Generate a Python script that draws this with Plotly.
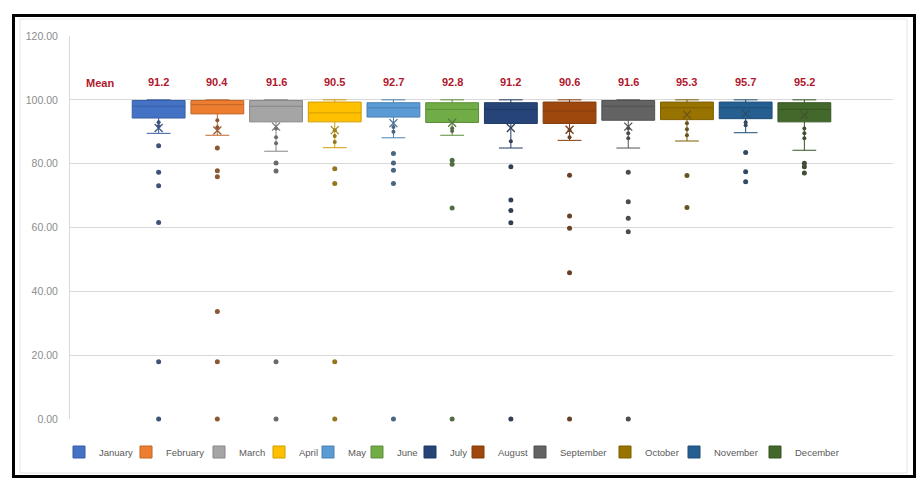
import plotly.graph_objects as go

# Monthly score distribution (percent), summarised per month
months = ["January", "February", "March", "April", "May", "June",
          "July", "August", "September", "October", "November", "December"]

q1 = [94.3, 95.6, 93.1, 93.1, 94.6, 92.9, 92.6, 92.6, 93.6, 93.8, 94.1, 93.1]
median = [98.0, 98.5, 98.0, 95.9, 97.5, 97.0, 97.0, 96.5, 98.0, 97.5, 97.5, 97.0]
q3 = [99.8, 99.8, 99.8, 99.3, 99.1, 99.1, 99.1, 99.3, 99.8, 99.3, 99.3, 99.1]
lower_whisker = [89.5, 88.9, 83.9, 85.0, 88.1, 88.9, 84.9, 87.3, 84.9, 87.1, 89.7, 84.2]
upper_whisker = [100, 100, 100, 100, 100, 100, 100, 100, 100, 100, 100, 100]
means = [91.2, 90.4, 91.6, 90.5, 92.7, 92.8, 91.2, 90.6, 91.6, 95.3, 95.7, 95.2]

# individual values lying between the lower quartile and the lower whisker
inner_points = [
    [93.0, 91.7],
    [93.6, 91.4],
    [91.0, 88.3, 86.4],
    [90.5, 88.7, 86.8],
    [91.5, 90.0],
    [91.1, 90.2],
    [87.0],
    [90.5, 88.3],
    [91.1, 89.5, 88.0],
    [92.7, 90.8, 88.9],
    [93.0, 92.0],
    [91.0, 89.5, 88.0],
]

# values beyond the whiskers
outliers = [
    [85.6, 77.3, 73.1, 61.6, 17.9, 0],
    [84.9, 77.8, 75.9, 33.7, 17.9, 0],
    [80.2, 77.7, 17.9, 0],
    [78.4, 73.8, 17.9, 0],
    [83.2, 80.2, 77.9, 73.8, 0],
    [81.1, 79.8, 66.1, 0],
    [79.0, 68.6, 65.3, 61.5, 0],
    [76.4, 63.6, 59.8, 45.8, 0],
    [77.3, 68.1, 62.9, 58.7, 0],
    [76.3, 66.3],
    [83.5, 77.5, 74.3],
    [80.1, 79.0, 77.1],
]

y_ticks = [0, 20, 40, 60, 80, 100, 120]

colors = ["#4472C4", "#ED7D31", "#A5A5A5", "#FFC000", "#5B9BD5", "#70AD47",
          "#264478", "#9E480E", "#636363", "#997300", "#255E91", "#43682B"]

# left edge (px) of each legend label along the bottom row
legend_text_px = [97, 164, 237, 297, 346, 395, 448, 496, 558, 643, 712, 793]

W, H = 921, 478
ML, MR, MT, MB = 70, 28, 36, 59
PW, PH = W - ML - MR, H - MT - MB


def px_to_paper_x(px):
    return (px - ML) / PW


def px_to_paper_y(py):
    return (H - MB - py) / PH


def mix(c1, c2, t):
    a = [int(c1[i:i + 2], 16) for i in (1, 3, 5)]
    b = [int(c2[i:i + 2], 16) for i in (1, 3, 5)]
    return "#" + "".join(f"{round(a[k] * (1 - t) + b[k] * t):02x}" for k in range(3))


fig = go.Figure()

for i, m in enumerate(months):
    leg = "legend" if i == 0 else f"legend{i + 1}"
    edge = mix(colors[i], "#000000", 0.18)
    dot = mix(colors[i], "#3a3a3a", 0.55)
    fig.add_trace(go.Box(
        x=[i], q1=[q1[i]], median=[median[i]], q3=[q3[i]],
        lowerfence=[lower_whisker[i]], upperfence=[upper_whisker[i]],
        name=m, width=0.9, whiskerwidth=0.45,
        fillcolor=colors[i], line=dict(color=edge, width=1),
        boxpoints=False, legendgroup=m, legend=leg, hoverinfo="skip",
    ))
    fig.add_trace(go.Scatter(
        x=[i] * len(inner_points[i]), y=inner_points[i], mode="markers",
        marker=dict(size=4, color=dot),
        showlegend=False, legendgroup=m, hoverinfo="skip",
    ))
    fig.add_trace(go.Scatter(
        x=[i] * len(outliers[i]), y=outliers[i], mode="markers",
        marker=dict(size=5, color=dot),
        showlegend=False, legendgroup=m, cliponaxis=False, hoverinfo="skip",
    ))
    fig.add_trace(go.Scatter(
        x=[i], y=[means[i]], mode="markers",
        marker=dict(symbol="x-thin", size=8,
                    line=dict(width=1.3, color=mix(colors[i], "#3a3a3a", 0.45))),
        showlegend=False, legendgroup=m, hoverinfo="skip",
    ))
    fig.add_annotation(x=i, y=105.5, text=f"<b>{means[i]:.1f}</b>", showarrow=False,
                       font=dict(family="Liberation Sans", size=11, color="#B0182C"))

fig.add_annotation(x=-1, y=105.2, text="<b>Mean</b>", showarrow=False,
                   font=dict(family="Liberation Sans", size=11, color="#B0182C"))

layout_legends = {}
for i, m in enumerate(months):
    key = "legend" if i == 0 else f"legend{i + 1}"
    layout_legends[key] = dict(
        x=px_to_paper_x(legend_text_px[i] - 38), xanchor="left",
        y=px_to_paper_y(452), yanchor="middle",
        orientation="h", bgcolor="rgba(0,0,0,0)", borderwidth=0,
        itemwidth=30, itemclick=False, itemdoubleclick=False,
        font=dict(family="Liberation Sans", size=9.5, color="#595959"),
    )

# outer black frame and inner light chart-area border
shapes = [
    dict(type="rect", xref="paper", yref="paper",
         x0=px_to_paper_x(20), x1=px_to_paper_x(907),
         y0=px_to_paper_y(473), y1=px_to_paper_y(19),
         line=dict(color="#e3e3e3", width=1), layer="below"),
    dict(type="rect", xref="paper", yref="paper",
         x0=px_to_paper_x(13.5), x1=px_to_paper_x(914.5),
         y0=px_to_paper_y(476.5), y1=px_to_paper_y(15.5),
         line=dict(color="#000000", width=3)),
]

fig.update_layout(
    width=W, height=H,
    margin=dict(l=ML, r=MR, t=MT, b=MB),
    paper_bgcolor="white", plot_bgcolor="white",
    boxmode="overlay",
    font=dict(family="Liberation Sans"),
    xaxis=dict(range=[-1.51, 12.51], showticklabels=False, showgrid=False,
               zeroline=False, showline=False, fixedrange=True),
    yaxis=dict(range=[0, 120], tickvals=y_ticks, tickformat=".2f",
               showgrid=True, gridcolor="#d9d9d9", gridwidth=1,
               zeroline=False, showline=True, linecolor="#d9d9d9",
               ticks="", ticklabelstandoff=9,
               tickfont=dict(family="Liberation Sans", size=10.5, color="#8c8c8c"),
               fixedrange=True),
    shapes=shapes,
    **layout_legends,
)

fig.write_html("out.html")
